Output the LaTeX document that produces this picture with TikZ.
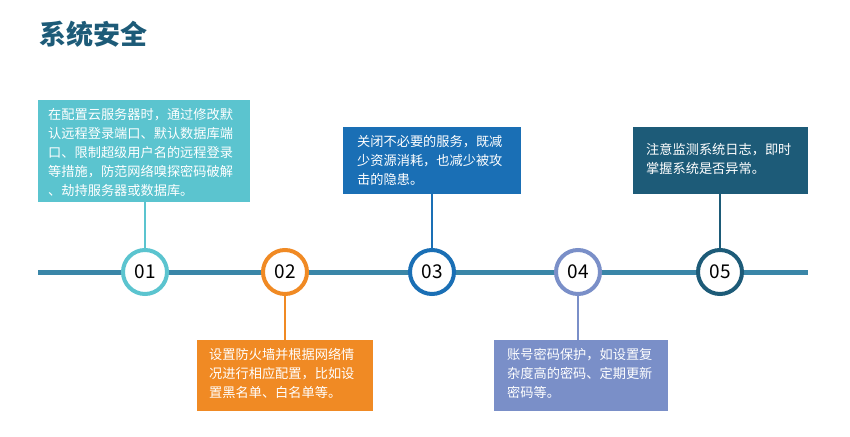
\documentclass[tikz,border=0pt]{standalone}
\usepackage{fontspec}
\setmainfont{Noto Sans CJK SC}
\definecolor{cA}{HTML}{5BC4CF}
\definecolor{cB}{HTML}{F08A24}
\definecolor{cC}{HTML}{1A6FB5}
\definecolor{cD}{HTML}{7A8FC8}
\definecolor{cE}{HTML}{1D5B78}
\definecolor{lineC}{HTML}{3A86A8}
\begin{document}
\begin{tikzpicture}[x=1pt,y=-1pt,
  circ/.style={circle,draw=#1,line width=4pt,fill=white,minimum size=44pt,inner sep=0pt,font=\fontsize{19}{19}\selectfont},
  txt/.style={fill=#1,text=white,align=left,anchor=north west,inner sep=0pt,font=\fontsize{13.2}{19}\selectfont},
  conn/.style={draw=#1,line width=2.5pt}]
\useasboundingbox (0,0) rectangle (850,436);
\node[anchor=west,text=cE,font=\fontsize{27}{27}\selectfont\bfseries] (title) at (36,34) {系统安全};
\coordinate (l0) at (38,272); \coordinate (l1) at (808,272);
\draw[lineC,line width=5pt] (l0) -- (l1);
% boxes
\fill[cA] (38,100) rectangle (250,202); \node[txt=cA] (t1) at (48,108) {在配置云服务器时，通过修改默\\认远程登录端口、默认数据库端\\口、限制超级用户名的远程登录\\等措施，防范网络嗅探密码破解\\、劫持服务器或数据库。};
\fill[cB] (197,340) rectangle (373,411); \node[txt=cB] (t2) at (209,348) {设置防火墙并根据网络情\\况进行相应配置，比如设\\置黑名单、白名单等。};
\fill[cC] (343,127) rectangle (521,194); \node[txt=cC] (t3) at (357,135) {关闭不必要的服务，既减\\少资源消耗，也减少被攻\\击的隐患。};
\fill[cD] (494,340) rectangle (668,411); \node[txt=cD] (t4) at (507,348) {账号密码保护，如设置复\\杂度高的密码、定期更新\\密码等。};
\fill[cE] (633,127) rectangle (808,194); \node[txt=cE] (t5) at (646,143) {注意监测系统日志，即时\\掌握系统是否异常。};
\coordinate (b1) at (145,202); \coordinate (b2) at (285,340); \coordinate (b3) at (432,194); \coordinate (b4) at (578,340); \coordinate (b5) at (720,194);
\node[circ=cA] (c1) at (145,272) {01};
\node[circ=cB] (c2) at (285,272) {02};
\node[circ=cC] (c3) at (432,272) {03};
\node[circ=cD] (c4) at (578,272) {04};
\node[circ=cE] (c5) at (720,272) {05};
\draw[conn=cA] (b1) -- (c1.north);
\draw[conn=cB] (c2.south) -- (b2);
\draw[conn=cC] (b3) -- (c3.north);
\draw[conn=cD] (c4.south) -- (b4);
\draw[conn=cE] (b5) -- (c5.north);
\end{tikzpicture}
\end{document}
